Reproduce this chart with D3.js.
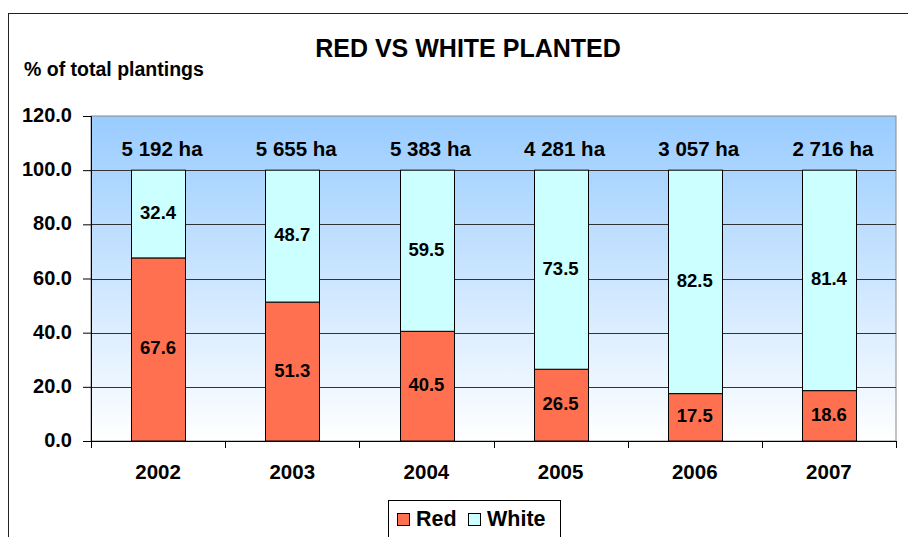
<!DOCTYPE html>
<html>
<head>
<meta charset="utf-8">
<script src="https://cdn.jsdelivr.net/npm/d3@7"></script>
<style>
  body { margin: 0; background: #fff; }
  text { font-family: Arial, "Liberation Sans", sans-serif; font-weight: bold; fill: #000; }
</style>
</head>
<body>
<script>
const years = ['2002', '2003', '2004', '2005', '2006', '2007'];
const red = [67.6, 51.3, 40.5, 26.5, 17.5, 18.6];
const white = [32.4, 48.7, 59.5, 73.5, 82.5, 81.4];
const hectares = ['5 192 ha', '5 655 ha', '5 383 ha', '4 281 ha', '3 057 ha', '2 716 ha'];
const yTicks = [0, 20, 40, 60, 80, 100, 120];

const width = 908, height = 537;
const plot = { left: 91, right: 896, top: 116, bottom: 441 };

const svg = d3.select('body').append('svg')
  .attr('width', width)
  .attr('height', height);

// outer chart border (runs off the picture to the right and bottom)
svg.append('rect')
  .attr('x', 8.5).attr('y', 13.5)
  .attr('width', 920).attr('height', 560)
  .attr('fill', 'none')
  .attr('stroke', '#222')
  .attr('stroke-width', 1);

const defs = svg.append('defs');
const grad = defs.append('linearGradient')
  .attr('id', 'bg')
  .attr('x1', 0).attr('y1', 0).attr('x2', 0).attr('y2', 1);
grad.append('stop').attr('offset', '0%').attr('stop-color', '#99CCFF');
grad.append('stop').attr('offset', '100%').attr('stop-color', '#FFFFFF');

const xScale = d3.scaleBand()
  .domain(years)
  .range([plot.left, plot.right])
  .paddingInner(0.6)
  .paddingOuter(0.3);

const yScale = d3.scaleLinear()
  .domain([0, 120])
  .range([plot.bottom, plot.top]);

svg.append('rect')
  .attr('x', plot.left).attr('y', plot.top)
  .attr('width', plot.right - plot.left)
  .attr('height', plot.bottom - plot.top)
  .attr('fill', 'url(#bg)')
  .attr('stroke', '#888')
  .attr('stroke-width', 1);

// gridlines
svg.append('g')
  .selectAll('line')
  .data(yTicks.filter((d) => d > 0 && d < 120))
  .enter()
  .append('line')
  .attr('x1', plot.left).attr('x2', plot.right)
  .attr('y1', (d) => Math.round(yScale(d)) + 0.5)
  .attr('y2', (d) => Math.round(yScale(d)) + 0.5)
  .attr('stroke', '#333')
  .attr('stroke-width', 1);

const yAxis = d3.axisLeft(yScale)
  .tickValues(yTicks)
  .tickFormat(d3.format('.1f'))
  .tickSize(8)
  .tickPadding(11);

const gy = svg.append('g')
  .attr('transform', 'translate(' + plot.left + ',0)')
  .call(yAxis);
gy.selectAll('text')
  .style('font-size', '20px')
  .style('font-family', 'Arial, "Liberation Sans", sans-serif')
  .attr('dy', '0.28em');
gy.selectAll('line, path').attr('stroke', '#000');

// x axis line and tick marks at category boundaries
const boundaries = d3.range(years.length + 1).map((i) => plot.left + i * (plot.right - plot.left) / years.length);
svg.append('line')
  .attr('x1', plot.left).attr('x2', plot.right)
  .attr('y1', plot.bottom + 0.5).attr('y2', plot.bottom + 0.5)
  .attr('stroke', '#000');
svg.append('g')
  .selectAll('line')
  .data(boundaries)
  .enter()
  .append('line')
  .attr('x1', (d) => Math.round(d) + 0.5).attr('x2', (d) => Math.round(d) + 0.5)
  .attr('y1', plot.bottom).attr('y2', plot.bottom + 7)
  .attr('stroke', '#000');

svg.append('g')
  .selectAll('text')
  .data(years)
  .enter()
  .append('text')
  .attr('x', (d) => xScale(d) + xScale.bandwidth() / 2)
  .attr('y', 479)
  .attr('text-anchor', 'middle')
  .style('font-size', '20.5px')
  .text((d) => d);

const rows = years.map((y, i) => ({ year: y, red: red[i], white: white[i], ha: hectares[i] }));

// red segments
svg.append('g')
  .selectAll('rect')
  .data(rows)
  .enter()
  .append('rect')
  .attr('x', (d) => Math.round(xScale(d.year)) + 0.5)
  .attr('y', (d) => yScale(d.red))
  .attr('width', Math.round(xScale.bandwidth()))
  .attr('height', (d) => yScale(0) - yScale(d.red))
  .attr('fill', '#FF7050')
  .attr('stroke', '#000')
  .attr('stroke-width', 1);

// white segments
svg.append('g')
  .selectAll('rect')
  .data(rows)
  .enter()
  .append('rect')
  .attr('x', (d) => Math.round(xScale(d.year)) + 0.5)
  .attr('y', (d) => yScale(d.red + d.white))
  .attr('width', Math.round(xScale.bandwidth()))
  .attr('height', (d) => yScale(d.red) - yScale(d.red + d.white))
  .attr('fill', '#CCFFFF')
  .attr('stroke', '#000')
  .attr('stroke-width', 1);

// value labels
svg.append('g')
  .selectAll('text')
  .data(rows)
  .enter()
  .append('text')
  .attr('x', (d) => xScale(d.year) + xScale.bandwidth() / 2)
  .attr('y', (d) => yScale(d.red / 2) + 5)
  .attr('text-anchor', 'middle')
  .style('font-size', '18.5px')
  .text((d) => d.red.toFixed(1));

svg.append('g')
  .selectAll('text')
  .data(rows)
  .enter()
  .append('text')
  .attr('x', (d) => xScale(d.year) + xScale.bandwidth() / 2)
  .attr('y', (d) => yScale(d.red + d.white / 2) + 5)
  .attr('text-anchor', 'middle')
  .style('font-size', '18.5px')
  .text((d) => d.white.toFixed(1));

// hectare labels (hand-placed text boxes in the original, sit a bit right of the bars)
svg.append('g')
  .selectAll('text')
  .data(rows)
  .enter()
  .append('text')
  .attr('x', (d) => xScale(d.year) + xScale.bandwidth() / 2 + 4)
  .attr('y', 156)
  .attr('text-anchor', 'middle')
  .style('font-size', '20.5px')
  .text((d) => d.ha);

svg.append('text')
  .attr('x', 468).attr('y', 57)
  .attr('text-anchor', 'middle')
  .style('font-size', '25px')
  .text('RED VS WHITE PLANTED');

svg.append('text')
  .attr('x', 24).attr('y', 76)
  .style('font-size', '19.5px')
  .text('% of total plantings');

// legend
const legend = svg.append('g');
legend.append('rect')
  .attr('x', 388.5).attr('y', 500.5)
  .attr('width', 172).attr('height', 50)
  .attr('fill', '#fff')
  .attr('stroke', '#000');
const legendItems = [
  { name: 'Red', color: '#FF7050', x: 397 },
  { name: 'White', color: '#CCFFFF', x: 468 }
];
legend.selectAll('rect.key')
  .data(legendItems)
  .enter()
  .append('rect')
  .attr('class', 'key')
  .attr('x', (d) => d.x + 0.5).attr('y', 513.5)
  .attr('width', 12).attr('height', 12)
  .attr('fill', (d) => d.color)
  .attr('stroke', '#000');
legend.selectAll('text')
  .data(legendItems)
  .enter()
  .append('text')
  .attr('x', (d) => d.x + 19)
  .attr('y', 526)
  .style('font-size', '21.5px')
  .text((d) => d.name);
</script>
</body>
</html>
